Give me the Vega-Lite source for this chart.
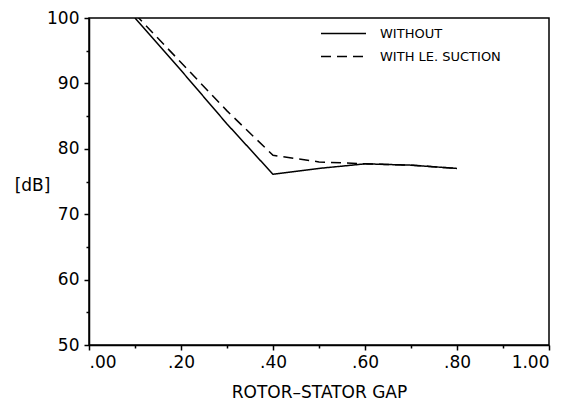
{
  "$schema": "https://vega.github.io/schema/vega-lite/v6.json",
  "width": 460,
  "height": 327,
  "autosize": {"type": "none"},
  "padding": {"left": 89, "top": 18, "right": 31, "bottom": 58},
  "background": "white",
  "config": {
    "view": {"stroke": "black", "strokeWidth": 1.5},
    "font": "DejaVu Sans",
    "axis": {
      "grid": false,
      "domainColor": "black",
      "domainWidth": 1.5,
      "tickColor": "black",
      "tickWidth": 1.5,
      "labelColor": "black",
      "titleColor": "black",
      "labelFont": "DejaVu Sans",
      "titleFont": "DejaVu Sans"
    }
  },
  "data": {
    "values": [
      {"gap": 0.1, "dB": 100.0, "series": "WITHOUT"},
      {"gap": 0.2, "dB": 92.0, "series": "WITHOUT"},
      {"gap": 0.3, "dB": 83.8, "series": "WITHOUT"},
      {"gap": 0.4, "dB": 76.1, "series": "WITHOUT"},
      {"gap": 0.5, "dB": 77.0, "series": "WITHOUT"},
      {"gap": 0.6, "dB": 77.7, "series": "WITHOUT"},
      {"gap": 0.7, "dB": 77.5, "series": "WITHOUT"},
      {"gap": 0.8, "dB": 77.0, "series": "WITHOUT"},
      {"gap": 0.1, "dB": 100.6, "series": "WITH LE. SUCTION"},
      {"gap": 0.2, "dB": 93.2, "series": "WITH LE. SUCTION"},
      {"gap": 0.3, "dB": 85.8, "series": "WITH LE. SUCTION"},
      {"gap": 0.4, "dB": 79.0, "series": "WITH LE. SUCTION"},
      {"gap": 0.5, "dB": 78.0, "series": "WITH LE. SUCTION"},
      {"gap": 0.6, "dB": 77.7, "series": "WITH LE. SUCTION"},
      {"gap": 0.7, "dB": 77.5, "series": "WITH LE. SUCTION"},
      {"gap": 0.8, "dB": 77.0, "series": "WITH LE. SUCTION"}
    ]
  },
  "layer": [
    {
      "mark": {"type": "line", "clip": true, "color": "black", "strokeWidth": 1.5},
      "encoding": {
        "x": {
          "field": "gap",
          "type": "quantitative",
          "scale": {"domain": [0, 1], "nice": false, "zero": false},
          "axis": {
            "orient": "bottom",
            "values": [0, 0.2, 0.4, 0.6, 0.8, 1],
            "labelExpr": "datum.value < 1 ? substring(format(datum.value, '.2f'), 1) : format(datum.value, '.2f')",
            "labelFontSize": 17,
            "tickSize": 5,
            "labelPadding": 4,
            "title": "ROTOR–STATOR GAP",
            "titleFontSize": 17,
            "titleFontWeight": "normal",
            "titlePadding": 14
          }
        },
        "y": {
          "field": "dB",
          "type": "quantitative",
          "scale": {"domain": [50, 100], "nice": false, "zero": false},
          "axis": {
            "orient": "left",
            "values": [50, 60, 70, 80, 90, 100],
            "format": "d",
            "labelFontSize": 17,
            "tickSize": 5,
            "labelPadding": 5,
            "title": "[dB]",
            "titleAngle": 0,
            "titleFontSize": 17,
            "titleFontWeight": "normal",
            "titleAlign": "center",
            "titleBaseline": "middle",
            "titleX": -57,
            "titleY": 167
          }
        },
        "strokeDash": {
          "field": "series",
          "type": "nominal",
          "scale": {"domain": ["WITHOUT", "WITH LE. SUCTION"], "range": [[1, 0], [10, 6]]},
          "legend": {
            "orient": "none",
            "legendX": 248,
            "legendY": 9,
            "title": null,
            "padding": 0,
            "symbolType": "M-5,0H5",
            "symbolSize": 81,
            "symbolStrokeColor": "black",
            "symbolStrokeWidth": 1.5,
            "symbolFillColor": "transparent",
            "labelFontSize": 13,
            "labelFont": "DejaVu Sans",
            "labelColor": "black",
            "labelOffset": 30,
            "rowPadding": 9
          }
        }
      }
    },
    {
      "mark": {"type": "line", "opacity": 0},
      "encoding": {
        "x": {
          "field": "gap",
          "type": "quantitative",
          "scale": {"domain": [0, 1], "nice": false, "zero": false},
          "axis": {"orient": "bottom", "values": [0.1, 0.3, 0.5, 0.7, 0.9], "labels": false, "domain": false, "tickSize": 3, "title": null}
        },
        "y": {
          "field": "dB",
          "type": "quantitative",
          "scale": {"domain": [50, 100], "nice": false, "zero": false},
          "axis": {"orient": "left", "values": [55, 65, 75, 85, 95], "labels": false, "domain": false, "tickSize": 3, "title": null}
        },
        "detail": {"field": "series", "type": "nominal"}
      }
    }
  ],
  "resolve": {"axis": {"x": "independent", "y": "independent"}}
}
